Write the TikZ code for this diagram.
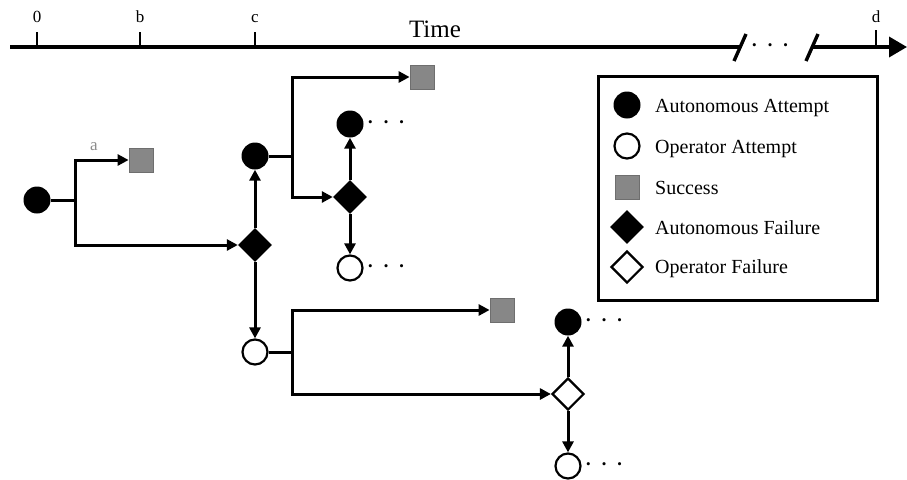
\documentclass[tikz,border=0pt]{standalone}
\usepackage{fontspec}
\setmainfont{Liberation Serif}
\usetikzlibrary{arrows.meta,shapes.geometric}
\definecolor{succgray}{RGB}{135,135,135}
\definecolor{succedge}{RGB}{110,110,110}
\definecolor{labgray}{RGB}{140,140,140}
\tikzset{
  autoatt/.style={circle,fill=black,minimum size=27pt,inner sep=0pt},
  operatt/.style={circle,draw=black,line width=2.2pt,fill=white,minimum size=25pt,inner sep=0pt},
  succbox/.style={rectangle,fill=succgray,draw=succedge,line width=0.8pt,minimum size=24pt,inner sep=0pt},
  autofail/.style={diamond,fill=black,minimum size=34pt,inner sep=0pt},
  operfail/.style={diamond,draw=black,line width=2.2pt,fill=white,minimum size=32pt,inner sep=0pt},
  conn/.style={line width=3pt},
  arr/.style={conn,-{Triangle[length=11pt,width=11pt]}},
  axisline/.style={line width=3.6pt},
  ticksty/.style={line width=2.4pt},
  ticklab/.style={font=\fontsize{17}{20}\selectfont,anchor=base,inner sep=0pt},
  dotsty/.style={font=\fontsize{13}{15}\selectfont,anchor=west,inner sep=0pt},
  legtext/.style={font=\fontsize{20}{24}\selectfont,anchor=base west,inner sep=0pt},
  legbox/.style={draw=black,line width=3pt,minimum width=279pt,minimum height=224pt,inner sep=0pt}
}
\newcommand{\threedots}{\textbullet\hspace{11pt}\textbullet\hspace{11pt}\textbullet}
\begin{document}
\begin{tikzpicture}[x=1pt,y=-1pt]
\useasboundingbox (0,0) rectangle (907,479);
% ---- time axis ----
\coordinate (ax0) at (10,47);
\coordinate (br1) at (740,47);
\coordinate (br2) at (812,47);
\coordinate (ax1) at (907,47);
\draw[axisline] (ax0) -- (br1);
\draw[axisline,-{Triangle[length=18pt,width=20pt]}] (br2) -- (ax1);
\draw[line width=3.4pt] (734,61) -- (746,34);
\draw[line width=3.4pt] (806,61) -- (818,34);
\node[dotsty] (axdots) at (752,47) {\threedots};
\draw[ticksty] (37,47) -- (37,32);
\draw[ticksty] (140,47) -- (140,32);
\draw[ticksty] (255,47) -- (255,32);
\draw[ticksty] (876,47) -- (876,30);
\node[ticklab] (l0) at (37,23) {0};
\node[ticklab] (lb) at (140,23) {b};
\node[ticklab] (lc) at (255,23) {c};
\node[ticklab] (ld) at (876,23) {d};
\node[font=\fontsize{25}{29}\selectfont,anchor=base,inner sep=0pt] (time) at (435,37) {Time};
% ---- tree nodes ----
\node[autoatt] (a0) at (37,200) {};
\coordinate (j0) at (75,200);
\node[succbox] (s0) at (141,160) {};
\node[autofail] (d0) at (255,245) {};
\node[autoatt] (a1) at (255,156) {};
\node[operatt] (o1) at (255,352) {};
\coordinate (j1) at (292,156);
\node[succbox] (s1) at (422,77) {};
\node[autofail] (d1) at (350,197) {};
\node[autoatt] (a2) at (350,124) {};
\node[operatt] (o2) at (350,268) {};
\coordinate (j2) at (292,352);
\node[succbox] (s2) at (502,310) {};
\node[operfail] (d2) at (568,394) {};
\node[autoatt] (a3) at (568,322) {};
\node[operatt] (o3) at (568,466) {};
% ---- connectors ----
\draw[conn] (a0) -- (j0);
\draw[arr] (j0) |- (s0);
\draw[arr] (j0) |- (d0);
\draw[arr] (d0) -- (a1);
\draw[arr] (d0) -- (o1);
\draw[conn] (a1) -- (j1);
\draw[arr] (j1) |- (s1);
\draw[arr] (j1) |- (d1);
\draw[arr] (d1) -- (a2);
\draw[arr] (d1) -- (o2);
\draw[conn] (o1) -- (j2);
\draw[arr] (j2) |- (s2);
\draw[arr] (j2) |- (d2);
\draw[arr] (d2) -- (a3);
\draw[arr] (d2) -- (o3);
\node[font=\fontsize{17}{20}\selectfont,text=labgray,anchor=base,inner sep=0pt] (la) at (94,150) {a};
% ---- continuation dots ----
\node[dotsty] (dots2) at (368,124) {\threedots};
\node[dotsty] (dotso2) at (368,268) {\threedots};
\node[dotsty] (dots3) at (586,322) {\threedots};
\node[dotsty] (dotso3) at (586,466) {\threedots};
% ---- legend ----
\node[legbox] (leg) at (737.5,188) {};
\node[autoatt] (k1) at (627,105) {};
\node[operatt] (k2) at (627,146) {};
\node[succbox] (k3) at (627,187) {};
\node[autofail] (k4) at (627,227) {};
\node[operfail] (k5) at (627,267) {};
\node[legtext] (t1) at (655,112) {Autonomous Attempt};
\node[legtext] (t2) at (655,153) {Operator Attempt};
\node[legtext] (t3) at (655,194) {Success};
\node[legtext] (t4) at (655,234) {Autonomous Failure};
\node[legtext] (t5) at (655,273) {Operator Failure};
\end{tikzpicture}
\end{document}
